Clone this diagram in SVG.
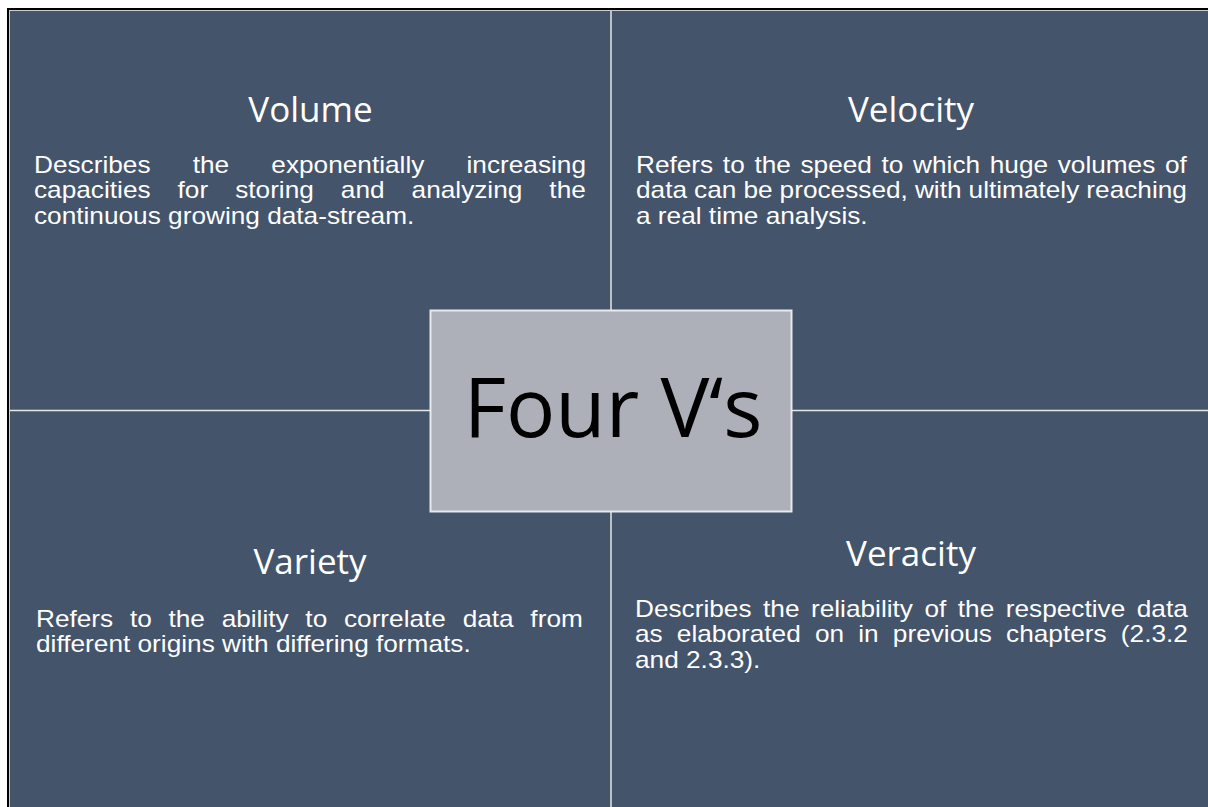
<svg xmlns="http://www.w3.org/2000/svg" width="1208" height="807" viewBox="0 0 1208 807">
  <style>
    .panel { fill: #44546A; }
    .divider { stroke: #E4E6EA; stroke-width: 1.5; fill: none; }
    .title { font-family: "Open Sans", "Noto Sans", sans-serif; font-size: 35px; fill: #FFFFFF; text-anchor: middle; }
    .body { font-family: "Liberation Sans", Arial, sans-serif; font-size: 23px; fill: #FFFFFF; }
    .hub-box { fill: #ADB0B8; stroke: #E8E9EC; stroke-width: 2; }
    .hub-text { font-family: "Open Sans", "Noto Sans", sans-serif; font-size: 82px; fill: #000000; text-anchor: middle; }
  </style>

  <!-- page background and framed panel -->
  <rect x="0" y="0" width="1208" height="807" fill="#FFFFFF"/>
  <rect x="7" y="8" width="1201" height="799" fill="#000000"/>
  <rect x="9" y="10" width="1199" height="797" fill="#C9CCD1"/>
  <rect class="panel" x="10" y="11" width="1198" height="796"/>

  <!-- quadrant dividers -->
  <g id="connectors">
    <line class="divider" x1="611" y1="11" x2="611" y2="807"/>
    <line class="divider" x1="10" y1="410.5" x2="1208" y2="410.5"/>
  </g>

  <!-- top-left quadrant; body lines are justified with word-spacing and widened 14% -->
  <g id="volume">
    <text class="title" x="310.5" y="121.5">Volume</text>
    <text class="body" transform="translate(34 172.5) scale(1.14 1)" style="word-spacing:30.6px">Describes the exponentially increasing</text>
    <text class="body" transform="translate(34 198) scale(1.14 1)" style="word-spacing:17.3px">capacities for storing and analyzing the</text>
    <text class="body" transform="translate(34 223.5) scale(1.14 1)">continuous growing data-stream.</text>
  </g>

  <!-- top-right quadrant -->
  <g id="velocity">
    <text class="title" x="911" y="121.5">Velocity</text>
    <text class="body" transform="translate(636 172.5) scale(1.14 1)" style="word-spacing:2.08px">Refers to the speed to which huge volumes of</text>
    <text class="body" transform="translate(636 198) scale(1.14 1)" style="word-spacing:-0.2px">data can be processed, with ultimately reaching</text>
    <text class="body" transform="translate(636 223.5) scale(1.14 1)">a real time analysis.</text>
  </g>

  <!-- bottom-left quadrant -->
  <g id="variety">
    <text class="title" x="310" y="573.5">Variety</text>
    <text class="body" transform="translate(36 626.5) scale(1.14 1)" style="word-spacing:8.27px">Refers to the ability to correlate data from</text>
    <text class="body" transform="translate(36 651.7) scale(1.14 1)">different origins with differing formats.</text>
  </g>

  <!-- bottom-right quadrant -->
  <g id="veracity">
    <text class="title" x="911" y="565.5">Veracity</text>
    <text class="body" transform="translate(635 616.7) scale(1.14 1)" style="word-spacing:3.7px">Describes the reliability of the respective data</text>
    <text class="body" transform="translate(635 642) scale(1.14 1)" style="word-spacing:6.05px">as elaborated on in previous chapters (2.3.2</text>
    <text class="body" transform="translate(635 667.5) scale(1.14 1)">and 2.3.3).</text>
  </g>

  <!-- central hub -->
  <g id="four-vs">
    <rect class="hub-box" x="430.5" y="310.5" width="361" height="201"/>
    <text class="hub-text" x="613" y="436.5">Four V‘s</text>
  </g>
</svg>
